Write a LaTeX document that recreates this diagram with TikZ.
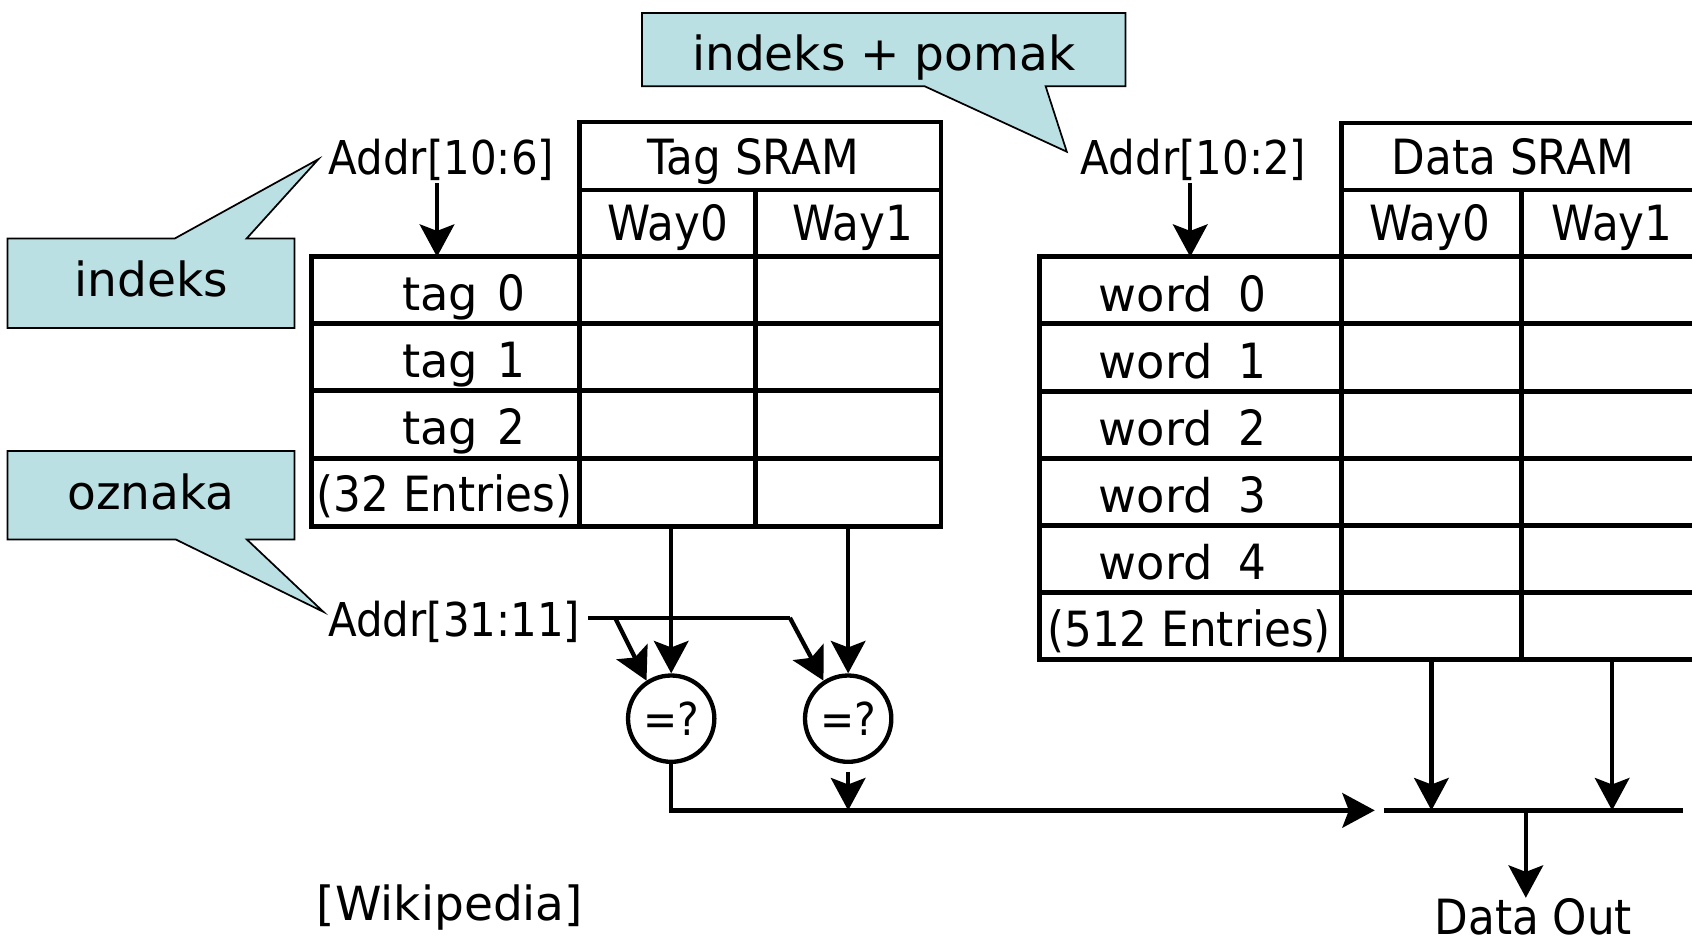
\documentclass[tikz,border=0pt]{standalone}
\usepackage{fontspec}
\setmainfont{DejaVu Sans}
\newfontfamily\condfont[FakeStretch=0.9]{DejaVu Sans}
\usetikzlibrary{arrows.meta}
\definecolor{calloutfill}{RGB}{187,224,227}

% one table cell given by its corners (x1,y1) and (x2,y2), in 0.5pt units
\newcommand\mkcell[5]{%
  \pgfmathsetmacro\cellw{(#4-#2)*0.5}%
  \pgfmathsetmacro\cellh{(#5-#3)*0.5}%
  \node[cellbox, minimum width=\cellw pt, minimum height=\cellh pt,
        anchor=north west] (#1) at (#2,#3) {};%
}

\begin{document}
\begin{tikzpicture}[x=0.5pt,y=-0.5pt,
  cellbox/.style={draw, line width=2.2pt, inner sep=0pt, outer sep=0pt},
  cond/.style={font=\condfont\fontsize{22.5}{26}\selectfont, inner sep=0pt, anchor=base},
  addr/.style={font=\condfont\fontsize{21.6}{26}\selectfont, inner sep=0pt, anchor=base},
  plain/.style={font=\fontsize{21.5}{26}\selectfont, inner sep=0pt, anchor=base},
  callout/.style={fill=calloutfill, draw=black, line width=0.8pt, line join=miter},
  arr/.style={-{Stealth[length=15pt,width=16pt,inset=3pt]}, line width=2pt},
  wire/.style={line width=2pt},
  cmp/.style={circle, draw, line width=2pt, minimum size=40pt, inner sep=0pt,
              font=\condfont\fontsize{21}{24}\selectfont},
]
\useasboundingbox (0,0) rectangle (1568,876);
\clip (0,0) rectangle (1568,876);

% ---------- callouts ----------
\draw[callout] (595,12) -- (1043,12) -- (1043,80) -- (969,80) -- (988.6,140.6)
  -- (857,80) -- (595,80) -- cycle;
\node[plain, font=\fontsize{21.8}{26}\selectfont] (cIdxOff) at (819,65) {indeks + pomak};

\draw[callout] (7,221) -- (162,221) -- (295,147.6) -- (228.6,221) -- (273,221)
  -- (273,304) -- (7,304) -- cycle;
\node[plain, font=\fontsize{21.8}{26}\selectfont] (cIdx) at (140,275) {indeks};

\draw[callout] (7,418) -- (273,418) -- (273,500) -- (228.8,500) -- (299.7,567)
  -- (163,500) -- (7,500) -- cycle;
\node[plain, font=\fontsize{21.8}{26}\selectfont] (cTag) at (140,472) {oznaka};

% ---------- Tag SRAM ----------
\mkcell{th}{537}{113}{872}{176}
\mkcell{tw0h}{537}{176}{700}{238}
\mkcell{tw1h}{700}{176}{872}{238}
\foreach \r/\ya/\yb in {0/238/300, 1/300/362, 2/362/425, 3/425/488} {
  \mkcell{tl\r}{289}{\ya}{537}{\yb}
  \mkcell{tw0\r}{537}{\ya}{700}{\yb}
  \mkcell{tw1\r}{700}{\ya}{872}{\yb}
}
\node[cond] (tTitle) at (698,162) {Tag SRAM};
\node[cond] (tWay0) at (619,223) {Way0};
\node[cond] (tWay1) at (790,223) {Way1};
\foreach \r/\yb in {0/288, 1/350, 2/412} {
  \node[plain] (tagtxt\r) at (430,\yb) {tag\hspace{9pt}{\condfont\fontsize{22.5}{26}\selectfont\r}};
}
\node[cond] (tEntries) at (412,474) {(32 Entries)};

% ---------- Data SRAM ----------
\mkcell{dh}{1243}{114}{1578}{176}
\mkcell{dw0h}{1243}{176}{1410}{238}
\mkcell{dw1h}{1410}{176}{1578}{238}
\foreach \r/\ya/\yb in {0/238/300, 1/300/363, 2/363/425, 3/425/487, 4/487/549, 5/549/611} {
  \mkcell{dl\r}{963}{\ya}{1243}{\yb}
  \mkcell{dw0\r}{1243}{\ya}{1410}{\yb}
  \mkcell{dw1\r}{1410}{\ya}{1578}{\yb}
}
\node[cond] (dTitle) at (1402,162) {Data SRAM};
\node[cond] (dWay0) at (1325,223) {Way0};
\node[cond] (dWay1) at (1494,223) {Way1};
\foreach \r/\yb in {0/289, 1/351, 2/413, 3/475, 4/537} {
  \node[plain] (wordtxt\r) at (1096,\yb) {word\hspace{12pt}{\condfont\fontsize{22.5}{26}\selectfont\r}};
}
\node[cond] (dEntries) at (1102,599) {(512 Entries)};

% ---------- address labels ----------
\node[addr] (a106) at (409,162) {Addr[10:6]};
\node[addr] (a102) at (1106,162) {Addr[10:2]};
\node[addr] (a3111) at (421,590) {Addr[31:11]};

\coordinate (a106out) at (405,170);
\coordinate (a102out) at (1103,170);
\draw[arr] (a106out) -- (a106out |- tl0.north);
\draw[arr] (a102out) -- (a102out |- dl0.north);

% ---------- comparators ----------
\node[cmp] (cmp0) at (622,666) {=?};
\node[cmp] (cmp1) at (786,666) {=?};

\draw[arr] (cmp0.north |- tw03.south) -- (cmp0.north);
\draw[arr] (cmp1.north |- tw13.south) -- (cmp1.north);

\coordinate (busL) at (545,572.5);
\coordinate (busB) at (570,572.5);
\coordinate (busR) at (732,572.5);
\draw[wire] (busL) -- (busR);
\draw[arr] (busB) -- (cmp0.123);
\draw[arr] (busR) -- (cmp1.123);

% ---------- hit / select bus ----------
\coordinate (selIn) at (1274,751);
\coordinate (muxL) at (1283,751);
\coordinate (muxR) at (1560,751);
\draw[arr] (cmp0.south) |- (selIn);
\draw[arr] ([yshift=-3.5pt]cmp1.south) -- (cmp1.south |- selIn);
\draw[wire] (muxL) -- (muxR);
\draw[arr] (dw05.south) -- (dw05.south |- muxL);
\draw[arr] (dw15.south) -- (dw15.south |- muxL);

\node[cond] (dout) at (1421,866) {Data Out};
\coordinate (doutTop) at (1414,751);
\coordinate (doutTip) at (1414,832);
\draw[arr] (doutTop) -- (doutTip);

\node[plain, font=\fontsize{21.8}{26}\selectfont] (wiki) at (417,853) {[Wikipedia]};
\end{tikzpicture}
\end{document}
